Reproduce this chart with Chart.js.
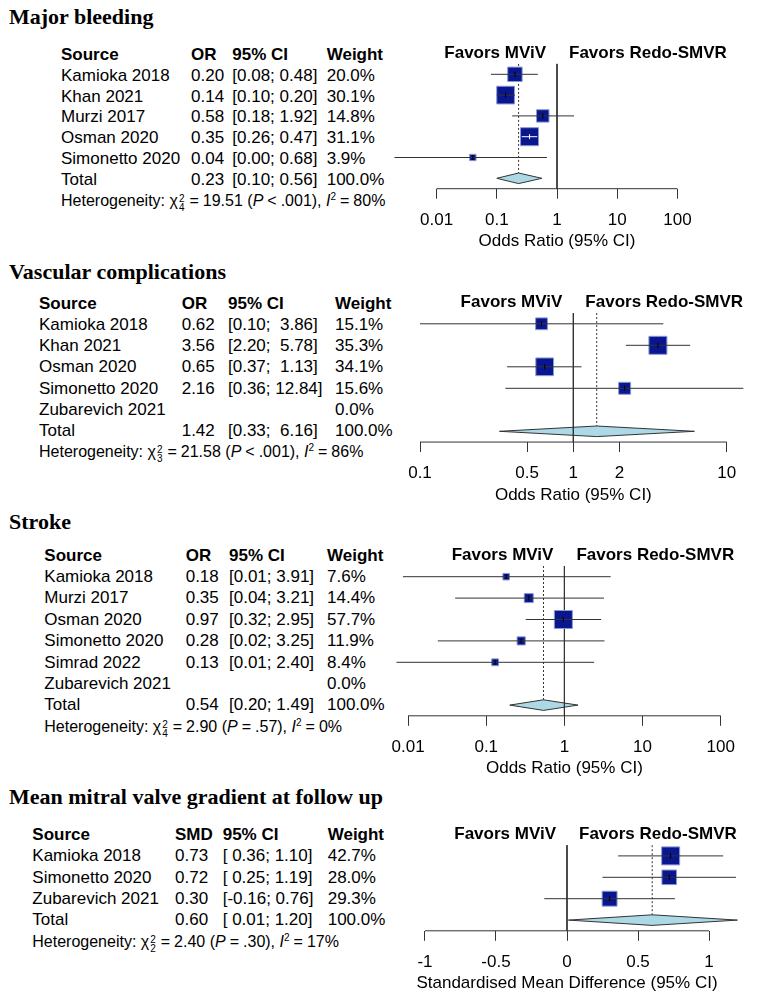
<!DOCTYPE html>
<html>
<head>
<meta charset="utf-8">
<script src="https://cdn.jsdelivr.net/npm/chart.js@4.4.1/dist/chart.umd.min.js"></script>
<style>
body { margin: 0; background: #fff; width: 759px; height: 1004px; position: relative; overflow: hidden;
       font-family: "Liberation Sans", Arial, sans-serif; color: #000; }
.t { position: absolute; white-space: pre; font-size: 17px; line-height: 20px; }
.b { font-weight: bold; }
.het { font-size: 16px; }
.op { margin: 0 4px; }
.title { position: absolute; left: 9px; font-family: "Liberation Serif", "Times New Roman", serif;
         font-weight: bold; font-size: 22px; line-height: 26px; white-space: pre; }
.ss { display: inline-block; vertical-align: -5px; font-size: 10px; line-height: 9px; margin: 0 1px; }
.ss span { display: block; }
sup { font-size: 10px; vertical-align: 6px; line-height: 0; }
canvas { position: absolute; }
</style>
</head>
<body>
<script>
// Major bleeding
const bleedStudies = ['Kamioka 2018', 'Khan 2021', 'Murzi 2017', 'Osman 2020', 'Simonetto 2020'];
const bleedEst = [0.20, 0.14, 0.58, 0.35, 0.04];
const bleedLow = [0.08, 0.10, 0.18, 0.26, 0.002];
const bleedHigh = [0.48, 0.20, 1.92, 0.47, 0.68];
const bleedWeight = [20.0, 30.1, 14.8, 31.1, 3.9];
const bleedTotal = [0.23, 0.10, 0.56];
const bleedTicks = [0.01, 0.1, 1, 10, 100];
const bleedHet = [4, '19.51', '<', '.001', '80%'];

// Vascular complications
const vascStudies = ['Kamioka 2018', 'Khan 2021', 'Osman 2020', 'Simonetto 2020', 'Zubarevich 2021'];
const vascEst = [0.62, 3.56, 0.65, 2.16, null];
const vascLow = [0.10, 2.20, 0.37, 0.36, null];
const vascHigh = [3.86, 5.78, 1.13, 12.84, null];
const vascWeight = [15.1, 35.3, 34.1, 15.6, 0.0];
const vascTotal = [1.42, 0.33, 6.16];
const vascTicks = [0.1, 0.5, 1, 2, 10];
const vascHet = [3, '21.58', '<', '.001', '86%'];

// Stroke
const strokeStudies = ['Kamioka 2018', 'Murzi 2017', 'Osman 2020', 'Simonetto 2020', 'Simrad 2022', 'Zubarevich 2021'];
const strokeEst = [0.18, 0.35, 0.97, 0.28, 0.13, null];
const strokeLow = [0.0086, 0.04, 0.32, 0.024, 0.0071, null];
const strokeHigh = [3.91, 3.21, 2.95, 3.25, 2.40, null];
const strokeWeight = [7.6, 14.4, 57.7, 11.9, 8.4, 0.0];
const strokeTotal = [0.54, 0.20, 1.49];
const strokeTicks = [0.01, 0.1, 1, 10, 100];
const strokeHet = [4, '2.90', '=', '.57', '0%'];

// Mean mitral valve gradient at follow up
const gradStudies = ['Kamioka 2018', 'Simonetto 2020', 'Zubarevich 2021'];
const gradEst = [0.73, 0.72, 0.30];
const gradLow = [0.36, 0.25, -0.16];
const gradHigh = [1.10, 1.19, 0.76];
const gradWeight = [42.7, 28.0, 29.3];
const gradTotal = [0.60, 0.01, 1.20];
const gradTicks = [-1, -0.5, 0, 0.5, 1];
const gradHet = [2, '2.40', '=', '.30', '17%'];

const panels = [
    { title: 'Major bleeding', titleTop: 4.4, studies: bleedStudies, est: bleedEst, low: bleedLow, high: bleedHigh,
      weight: bleedWeight, total: bleedTotal, ticks: bleedTicks, het: bleedHet, log: true, measure: 'OR',
      axisTitle: 'Odds Ratio (95% CI)', cols: [61, 191, 232.3, 326.7], textTop: 55, textStep: 20.8,
      plotTop: 53.5, plotStep: 20.8, axisLeft: 435.7, axisRight: 677.3, pad: 43 },
    { title: 'Vascular complications', titleTop: 258.6, studies: vascStudies, est: vascEst, low: vascLow, high: vascHigh,
      weight: vascWeight, total: vascTotal, ticks: vascTicks, het: vascHet, log: true, measure: 'OR',
      axisTitle: 'Odds Ratio (95% CI)', cols: [39, 181.7, 228, 335], textTop: 303.8, textStep: 21.2,
      plotTop: 302.3, plotStep: 21.5, axisLeft: 420, axisRight: 726.7, pad: 18 },
    { title: 'Stroke', titleTop: 509, studies: strokeStudies, est: strokeEst, low: strokeLow, high: strokeHigh,
      weight: strokeWeight, total: strokeTotal, ticks: strokeTicks, het: strokeHet, log: true, measure: 'OR',
      axisTitle: 'Odds Ratio (95% CI)', cols: [44.3, 185.7, 229, 327], textTop: 555.7, textStep: 21.37,
      plotTop: 555.3, plotStep: 21.4, axisLeft: 406.7, axisRight: 720.7, pad: 12 },
    { title: 'Mean mitral valve gradient at follow up', titleTop: 783.6, studies: gradStudies, est: gradEst, low: gradLow,
      high: gradHigh, weight: gradWeight, total: gradTotal, ticks: gradTicks, het: gradHet, log: false, measure: 'SMD',
      axisTitle: 'Standardised Mean Difference (95% CI)', cols: [32.3, 175, 222.7, 327.7], textTop: 835, textStep: 21.35,
      plotTop: 834.5, plotStep: 21.4, axisLeft: 425, axisRight: 709, pad: 30 }
];

Chart.defaults.font.family = '"Liberation Sans", Arial, sans-serif';
Chart.defaults.color = '#000';

const SQUARE = '#0a168e';
const SQUARE_EDGE = '#8a9ad4';
const LINE = '#333';

function addText(x, y, html, cls) {
    const d = document.createElement('div');
    d.className = 't ' + (cls || '');
    d.style.left = x + 'px';
    d.style.top = (y - 10) + 'px';
    d.innerHTML = html;
    document.body.appendChild(d);
}

function op(s) {
    return '<span class="op">' + s.replace(/</g, '&lt;') + '</span>';
}

function hetHtml(h) {
    return 'Heterogeneity: \u03c7<span class="ss"><span>2</span><span>' + h[0] + '</span></span>' + op('=') + h[1] +
        ' (<i>P</i>' + op(h[2]) + h[3] + '), <i>I</i><sup>2</sup>' + op('=') + h[4];
}

function drawTable(p) {
    const ttl = document.createElement('div');
    ttl.className = 'title';
    ttl.style.top = p.titleTop + 'px';
    ttl.textContent = p.title;
    document.body.appendChild(ttl);

    const c = p.cols;
    const row = k => p.textTop + k * p.textStep;
    addText(c[0], row(0), 'Source', 'b');
    addText(c[1], row(0), p.measure, 'b');
    addText(c[2], row(0), '95% CI', 'b');
    addText(c[3], row(0), 'Weight', 'b');

    // pad CI bounds to a common width, as the original table does
    const lows = p.low.concat([p.total[1]]).map(v => v == null ? '' : v.toFixed(2));
    const highs = p.high.concat([p.total[2]]).map(v => v == null ? '' : v.toFixed(2));
    const lw = Math.max(...lows.map(s => s.length));
    const hw = Math.max(...highs.map(s => s.length));
    const ci = i => lows[i] === '' ? '' : '[' + lows[i].padStart(lw) + '; ' + highs[i].padStart(hw) + ']';

    p.studies.forEach((s, i) => {
        addText(c[0], row(i + 1), s);
        if (p.est[i] != null) {
            addText(c[1], row(i + 1), p.est[i].toFixed(2));
            addText(c[2], row(i + 1), ci(i));
        }
        addText(c[3], row(i + 1), p.weight[i].toFixed(1) + '%');
    });
    const n = p.studies.length;
    addText(c[0], row(n + 1), 'Total');
    addText(c[1], row(n + 1), p.total[0].toFixed(2));
    addText(c[2], row(n + 1), ci(n));
    addText(c[3], row(n + 1), '100.0%');
    addText(c[0], row(n + 2), hetHtml(p.het), 'het');
}

function drawPlot(p) {
    const n = p.studies.length;
    const totRow = n + 1;
    const yMax = totRow + 0.5;
    const tf = v => p.log ? Math.log10(v) : v;
    const itf = t => p.log ? Math.pow(10, t) : t;
    const t0 = tf(p.ticks[0]);
    const t1 = tf(p.ticks[p.ticks.length - 1]);
    const unitPx = (p.axisRight - p.axisLeft) / (t1 - t0);
    const xMin = itf(t0 - p.pad / unitPx);
    const xMax = itf(t1 + p.pad / unitPx);
    const left = p.axisLeft - p.pad;
    const right = p.axisRight + p.pad;
    const nullVal = p.log ? 1 : 0;

    const axisY = p.plotTop + yMax * p.plotStep;
    const cTop = Math.floor(p.plotTop) - 14;
    const padTop = p.plotTop - cTop;
    const cH = Math.ceil(axisY - cTop + 68);
    const axisH = cH - (axisY - cTop);

    const canvas = document.createElement('canvas');
    canvas.width = 379;
    canvas.height = cH;
    canvas.style.left = '380px';
    canvas.style.top = cTop + 'px';
    document.body.appendChild(canvas);

    const wMax = Math.max(...p.weight);
    const rows = p.est.map((e, i) => ({ e: e, lo: p.low[i], hi: p.high[i], w: p.weight[i], r: i + 1 }))
        .filter(d => d.e != null);
    const side = d => 18 * Math.sqrt(d.w / wMax);
    const inside = (chart, d) => {
        const x = chart.scales.x;
        return x.getPixelForValue(d.hi) - x.getPixelForValue(d.lo) < side(d);
    };
    const dh = 5.3 / p.plotStep;
    const tot = p.total;

    const lineSet = (data, extra) => Object.assign({
        type: 'scatter', data: data, showLine: true, borderColor: LINE, borderWidth: 1,
        pointRadius: 0, tension: 0, clip: false, order: 6
    }, extra || {});

    const datasets = [
        // pooled diamond
        lineSet([{ x: tot[1], y: totRow }, { x: tot[0], y: totRow - dh }, { x: tot[2], y: totRow },
                 { x: tot[0], y: totRow + dh }, { x: tot[1], y: totRow }],
                { fill: 'shape', backgroundColor: '#add8e6', order: 7 }),
        // line of no effect
        lineSet([{ x: nullVal, y: 0.5 }, { x: nullVal, y: yMax }]),
        // pooled estimate
        lineSet([{ x: tot[0], y: 0.5 }, { x: tot[0], y: totRow - dh }], { borderDash: [2, 2] }),
        // axis line, first to last tick only
        lineSet([{ x: p.ticks[0], y: yMax }, { x: p.ticks[p.ticks.length - 1], y: yMax }]),
        {
            type: 'scatter', data: rows.map(d => ({ x: d.e, y: d.r })), pointStyle: 'rect',
            pointRadius: rows.map(d => side(d) / Math.SQRT2), backgroundColor: SQUARE,
            borderColor: SQUARE_EDGE, borderWidth: 1, clip: false, order: 4
        }
    ];
    rows.forEach(d => {
        datasets.push(lineSet([{ x: d.lo, y: d.r }, { x: d.hi, y: d.r }], {
            order: 2,
            segment: { borderColor: ctx => (ctx.p1.x - ctx.p0.x) < side(d) ? '#fff' : LINE }
        }));
    });
    datasets.push({
        type: 'scatter', data: rows.map(d => ({ x: d.e, y: d.r })), pointStyle: 'line', rotation: 90,
        pointRadius: 2.5, borderWidth: 1, clip: false, order: 1,
        borderColor: ctx => inside(ctx.chart, rows[ctx.dataIndex]) ? '#fff' : '#000'
    });

    const favorsLabels = {
        id: 'favorsLabels',
        afterDraw(chart) {
            const { ctx, scales: { x, y } } = chart;
            const px = x.getPixelForValue(nullVal);
            const py = y.getPixelForValue(0);
            ctx.save();
            ctx.font = 'bold 17px "Liberation Sans", Arial, sans-serif';
            ctx.fillStyle = '#000';
            ctx.textBaseline = 'middle';
            ctx.textAlign = 'right';
            ctx.fillText('Favors MViV', px - 11, py);
            ctx.textAlign = 'left';
            ctx.fillText('Favors Redo-SMVR', px + 12, py);
            ctx.restore();
        }
    };

    new Chart(canvas, {
        type: 'scatter',
        data: { datasets: datasets },
        options: {
            responsive: false,
            animation: false,
            devicePixelRatio: 1,
            events: [],
            layout: { padding: { left: left - 380, right: 759 - right, top: padTop, bottom: 0 } },
            plugins: { legend: { display: false }, tooltip: { enabled: false } },
            scales: {
                x: {
                    type: p.log ? 'logarithmic' : 'linear',
                    min: xMin,
                    max: xMax,
                    afterBuildTicks: s => { s.ticks = p.ticks.map(v => ({ value: v })); },
                    afterFit: s => { s.height = axisH; },
                    grid: { drawOnChartArea: false, drawTicks: true, tickLength: 10, color: LINE, lineWidth: 1 },
                    border: { display: false },
                    ticks: {
                        autoSkip: false, maxRotation: 0, padding: 11, color: '#000',
                        font: { size: 17 }, callback: v => String(v)
                    },
                    title: {
                        display: true, text: p.axisTitle, color: '#000', font: { size: 17 },
                        padding: { top: 0, bottom: 5 }
                    }
                },
                y: { type: 'linear', display: false, reverse: true, min: 0, max: yMax }
            }
        },
        plugins: [favorsLabels]
    });
}

panels.forEach(p => {
    drawTable(p);
    drawPlot(p);
});
</script>
</body>
</html>
